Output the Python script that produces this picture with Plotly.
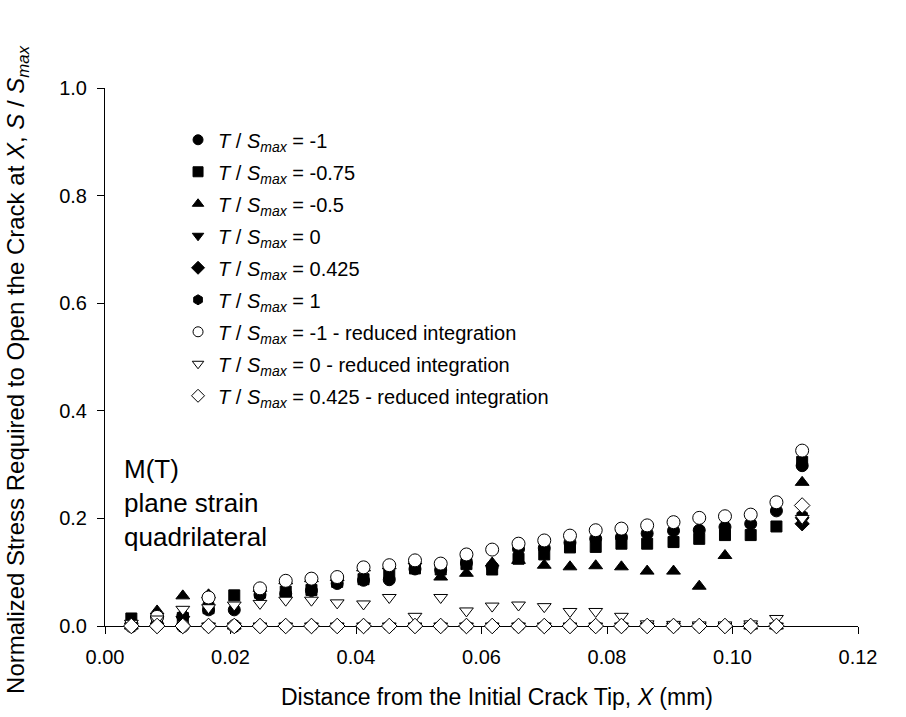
import plotly.graph_objects as go

# Distance ahead of the initial crack tip (mm)
x_mm = [0.0042, 0.0083, 0.0124, 0.0165, 0.0206, 0.0247, 0.0288, 0.0329, 0.0370,
        0.0412, 0.0453, 0.0494, 0.0535, 0.0576, 0.0617, 0.0659, 0.0700, 0.0741,
        0.0782, 0.0823, 0.0864, 0.0906, 0.0947, 0.0988, 0.1029, 0.1070, 0.1111]

# Normalized opening stress S / Smax for each T / Smax ratio
s_t_m1 = [0.005, 0.015, 0.018, 0.030, 0.030, 0.058, 0.060, 0.066, 0.079, 0.085,
          0.086, 0.106, 0.104, 0.117, 0.110, 0.143, 0.145, 0.155, 0.162, 0.165,
          0.172, 0.177, 0.178, 0.184, 0.190, 0.214, 0.298]
s_t_m075 = [0.014, 0.012, 0.015, 0.033, 0.057, 0.062, 0.064, 0.067, 0.082, 0.087,
            0.097, 0.107, 0.105, 0.115, 0.105, 0.125, 0.133, 0.146, 0.147, 0.153,
            0.153, 0.156, 0.162, 0.169, 0.169, 0.185, 0.305]
s_t_m05 = [0.0, 0.028, 0.056, 0.058, 0.0, 0.070, 0.084, 0.088, 0.090, 0.108,
           0.112, 0.121, 0.091, 0.098, 0.117, 0.122, 0.113, 0.110, 0.112, 0.110,
           0.102, 0.102, 0.074, 0.131, 0.0, 0.0, 0.267]
s_t_0 = [0.0, 0.0, 0.012, 0.0, 0.0, 0.0, 0.0, 0.0, 0.0, 0.0,
         0.0, 0.0, 0.0, 0.0, 0.0, 0.0, 0.0, 0.0, 0.0, 0.0,
         0.0, 0.0, 0.0, 0.0, 0.0, 0.0, 0.196]
s_t_0425 = [0.0, 0.0, 0.0, 0.0, 0.0, 0.0, 0.0, 0.0, 0.0, 0.0,
            0.0, 0.0, 0.0, 0.0, 0.0, 0.0, 0.0, 0.0, 0.0, 0.0,
            0.0, 0.0, 0.0, 0.0, 0.0, 0.0, 0.190]
s_t_1 = [0.0, 0.0, 0.0, 0.0, 0.0, 0.0, 0.0, 0.0, 0.0, 0.0,
         0.0, 0.0, 0.0, 0.0, 0.0, 0.0, 0.0, 0.0, 0.0, 0.0,
         0.0, 0.0, 0.0, 0.0, 0.0, 0.0, 0.205]
s_t_m1_ri = [0.0, 0.017, 0.0, 0.053, 0.0, 0.070, 0.084, 0.088, 0.091, 0.109,
             0.113, 0.122, 0.116, 0.133, 0.142, 0.153, 0.159, 0.168, 0.178, 0.181,
             0.187, 0.193, 0.201, 0.204, 0.207, 0.230, 0.326]
s_t_0_ri = [0.005, 0.013, 0.031, 0.034, 0.039, 0.042, 0.048, 0.048, 0.043, 0.041,
            0.053, 0.018, 0.053, 0.028, 0.037, 0.039, 0.036, 0.027, 0.027, 0.018,
            0.004, 0.003, 0.002, 0.002, 0.004, 0.014, 0.200]
s_t_0425_ri = [0.0, 0.0, 0.0, 0.0, 0.0, 0.0, 0.0, 0.0, 0.0, 0.0,
               0.0, 0.0, 0.0, 0.0, 0.0, 0.0, 0.0, 0.0, 0.0, 0.0,
               0.0, 0.0, 0.0, 0.0, 0.0, 0.0, 0.224]

ratio_labels = ["-1", "-0.75", "-0.5", "0", "0.425", "1",
                "-1 - reduced integration", "0 - reduced integration",
                "0.425 - reduced integration"]

x_title = "Distance from the Initial Crack Tip, <i>X</i> (mm)"
y_title = ("Normalized Stress Required to Open the Crack at <i>X</i>, "
           "<i>S</i> / <i>S</i><sub><i>max</i></sub>")

FONT = "Liberation Sans, Arial, Helvetica, sans-serif"

series = [
    (s_t_m1, "circle", "black", 12),
    (s_t_m075, "square", "black", 11),
    (s_t_m05, "triangle-up", "black", 12),
    (s_t_0, "triangle-down", "black", 12),
    (s_t_0425, "diamond", "black", 11),
    (s_t_1, "hexagon", "black", 12),
    (s_t_m1_ri, "circle", "white", 13),
    (s_t_0_ri, "triangle-down", "white", 12),
    (s_t_0425_ri, "diamond", "white", 12),
]

fig = go.Figure()

for k, (vals, sym, fill, size) in enumerate(series):
    name = "<i>T</i> / <i>S</i><sub><i>max</i></sub> = " + ratio_labels[k]
    # data markers
    fig.add_trace(go.Scatter(
        x=x_mm, y=vals, mode="markers", showlegend=False, cliponaxis=False,
        marker=dict(symbol=sym, size=size, color=fill,
                    line=dict(color="black", width=1)),
        hoverinfo="x+y", name=name,
    ))
    # legend key (slightly smaller symbol)
    fig.add_trace(go.Scatter(
        x=[None], y=[None], mode="markers", name=name, legendgroup=str(k),
        marker=dict(symbol=sym, size=10, color=fill,
                    line=dict(color="black", width=1)),
    ))

# model description block inside the plot
fig.add_annotation(
    x=0.022, y=0.228, xref="paper", yref="paper", xanchor="left", yanchor="middle",
    text="M(T)<br>plane strain<br>quadrilateral", showarrow=False, align="left",
    font=dict(family=FONT, size=26, color="black"),
)

# axis titles
fig.add_annotation(
    x=0.52, y=-0.132, xref="paper", yref="paper", xanchor="center", yanchor="middle",
    text=x_title, showarrow=False, font=dict(family=FONT, size=23, color="black"),
)
fig.add_annotation(
    x=-0.1155, y=0.476, xref="paper", yref="paper", xanchor="center", yanchor="middle",
    text=y_title, textangle=-90, showarrow=False,
    font=dict(family=FONT, size=24, color="black"),
)

axis_common = dict(
    showline=True, linecolor="black", linewidth=1, mirror=False,
    ticks="outside", ticklen=7, tickwidth=1, tickcolor="black",
    showgrid=False, zeroline=False, layer="below traces",
    tickfont=dict(family=FONT, size=20, color="black"),
    ticklabelstandoff=6,
)

fig.update_layout(
    width=906, height=717,
    margin=dict(l=105, r=48, t=88, b=91),
    paper_bgcolor="white", plot_bgcolor="white",
    font=dict(family=FONT, color="black"),
    xaxis=dict(range=[0, 0.12], dtick=0.02, tick0=0, tickformat=".2f", **axis_common),
    yaxis=dict(range=[0, 1.0], dtick=0.2, tick0=0, tickformat=".1f", **axis_common),
    legend=dict(
        x=0.097, y=0.94, xanchor="left", yanchor="top",
        bgcolor="rgba(0,0,0,0)", borderwidth=0,
        font=dict(family=FONT, size=20, color="black"),
        tracegroupgap=3, itemsizing="trace",
    ),
)

fig.write_html("out.html")
